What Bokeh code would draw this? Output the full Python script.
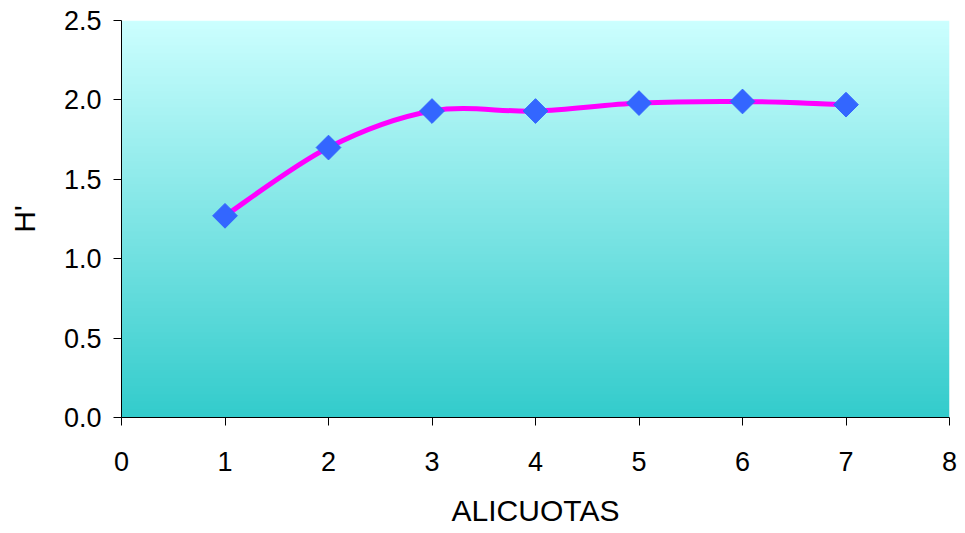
import numpy as np
from bokeh.plotting import figure
from bokeh.models import Range1d, FixedTicker, NumeralTickFormatter
from bokeh.embed import file_html
from bokeh.resources import INLINE

# Shannon diversity H' per aliquot
alicuotas = [1, 2, 3, 4, 5, 6, 7]
h_prime = [1.27, 1.70, 1.93, 1.93, 1.98, 1.99, 1.97]

x_ticks = [0, 1, 2, 3, 4, 5, 6, 7, 8]
y_ticks = [0.0, 0.5, 1.0, 1.5, 2.0, 2.5]

FONT = "Liberation Sans"

p = figure(width=965, height=533, output_backend="svg", toolbar_location=None,
           x_range=Range1d(0, 8), y_range=Range1d(0, 2.5),
           min_border_left=121, min_border_right=16,
           min_border_top=20, min_border_bottom=116)
p.outline_line_color = None
p.xgrid.visible = False
p.ygrid.visible = False

# vertical gradient background: light cyan at top to teal at bottom
n = 256
t = np.linspace(0.0, 1.0, n)[:, None]          # 0 bottom -> 1 top
bottom = np.array([51, 204, 204])
top = np.array([204, 255, 255])
rgb = (bottom + (top - bottom) * t).astype(np.uint32)
img = np.empty((n, 1), dtype=np.uint32)
view = img.view(dtype=np.uint8).reshape((n, 1, 4))
view[:, :, 0] = rgb[:, 0:1]
view[:, :, 1] = rgb[:, 1:2]
view[:, :, 2] = rgb[:, 2:3]
view[:, :, 3] = 255
p.image_rgba(image=[img], x=0, y=0, dw=8, dh=2.5)

# smoothed line (Catmull-Rom style cubic Bezier segments through the points)
xs = np.array(alicuotas, dtype=float)
ys = np.array(h_prime, dtype=float)
px = np.concatenate([[xs[0]], xs, [xs[-1]]])
py = np.concatenate([[ys[0]], ys, [ys[-1]]])
k = 1.0 / 6.0
x0 = xs[:-1]; y0 = ys[:-1]
x1 = xs[1:]; y1 = ys[1:]
cx0 = x0 + (px[2:-1] - px[:-3]) * k
cy0 = y0 + (py[2:-1] - py[:-3]) * k
cx1 = x1 - (px[3:] - px[1:-2]) * k
cy1 = y1 - (py[3:] - py[1:-2]) * k
p.bezier(x0=x0, y0=y0, x1=x1, y1=y1, cx0=cx0, cy0=cy0, cx1=cx1, cy1=cy1,
         line_color="#FF00FF", line_width=5)

# diamond markers
p.scatter(alicuotas, h_prime, marker="square", angle=np.pi / 4, size=17.5,
          fill_color="#3366FF", line_color="#3366FF")

for ax in (p.xaxis[0], p.yaxis[0]):
    ax.axis_line_color = "black"
    ax.axis_line_width = 1
    ax.major_tick_line_color = "black"
    ax.major_tick_in = 0
    ax.major_tick_out = 8
    ax.minor_tick_line_color = None
    ax.major_label_text_font = FONT
    ax.major_label_text_font_size = "27px"
    ax.major_label_text_color = "black"
    ax.axis_label_text_font = FONT
    ax.axis_label_text_font_size = "30px"
    ax.axis_label_text_font_style = "normal"
    ax.axis_label_text_color = "black"

p.xaxis.ticker = FixedTicker(ticks=x_ticks)
p.yaxis.ticker = FixedTicker(ticks=y_ticks)
p.yaxis.formatter = NumeralTickFormatter(format="0.0")
p.xaxis.axis_label = "ALICUOTAS"
p.yaxis.axis_label = "H'"
p.xaxis.major_label_standoff = 26
p.yaxis.major_label_standoff = 12
p.xaxis.axis_label_standoff = 20
p.yaxis.axis_label_standoff = 20

open("out.html", "w").write(file_html(p, INLINE))
